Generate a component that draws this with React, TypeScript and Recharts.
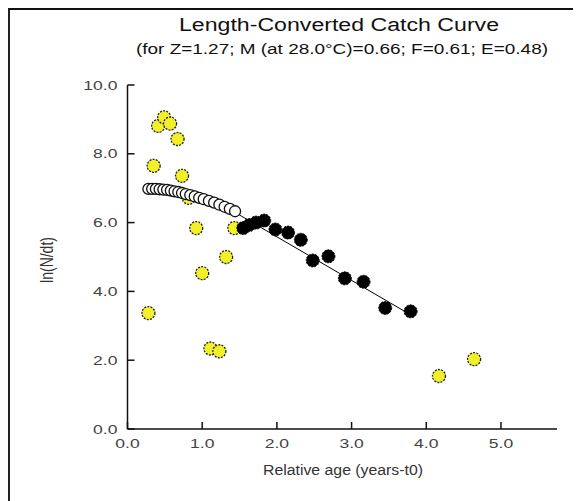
import React from 'react';
import { ScatterChart, Scatter, XAxis, YAxis } from 'recharts';

// Yellow points (not used in regression)
const yellowX = [0.28, 0.35, 0.41, 0.49, 0.57, 0.67, 0.73, 0.82, 0.92, 1.0, 1.11, 1.23, 1.32, 1.43, 4.17, 4.64];
const yellowY = [3.37, 7.65, 8.81, 9.06, 8.88, 8.43, 7.36, 6.72, 5.84, 4.53, 2.34, 2.26, 5.0, 5.84, 1.54, 2.03];

// Open circles (corrected values)
const openX = [0.28, 0.33, 0.38, 0.43, 0.48, 0.53, 0.58, 0.63, 0.68, 0.73, 0.78, 0.84, 0.9, 0.96, 1.02, 1.09, 1.16, 1.23, 1.3, 1.37, 1.44];
const openY = [6.98, 6.98, 6.98, 6.97, 6.96, 6.95, 6.93, 6.91, 6.89, 6.86, 6.83, 6.8, 6.76, 6.72, 6.68, 6.63, 6.58, 6.52, 6.46, 6.4, 6.33];

// Black points (used in regression)
const blackX = [1.55, 1.63, 1.72, 1.83, 1.98, 2.15, 2.32, 2.48, 2.69, 2.91, 3.16, 3.45, 3.79];
const blackY = [5.84, 5.93, 6.0, 6.06, 5.8, 5.71, 5.5, 4.9, 5.02, 4.38, 4.28, 3.52, 3.42];

// Regression line endpoints
const fitX = [1.5, 3.79];
const fitY = [6.22, 3.32];

const xTicks = [0, 1, 2, 3, 4, 5];
const yTicks = [0, 2, 4, 6, 8, 10];

const titleText = 'Length-Converted Catch Curve';
const subtitleText = '(for Z=1.27; M (at 28.0°C)=0.66; F=0.61; E=0.48)';
const xLabel = 'Relative age (years-t0)';
const yLabel = 'ln(N/dt)';

const toPts = (xs: number[], ys: number[]) => xs.map((x, i) => ({ x, y: ys[i] }));
const yellowData = toPts(yellowX, yellowY);
const openData = toPts(openX, openY);
const blackData = toPts(blackX, blackY);
const fitData = toPts(fitX, fitY);

const W = 569;
const H = 493;
const FONT = '"Liberation Sans", Arial, sans-serif';

const XTick = (props: any) => {
  const { x, y, payload } = props;
  return (
    <g>
      <line x1={x} y1={y} x2={x} y2={y - 7} stroke="#111" strokeWidth={1.5} />
      <text
        transform={`translate(${x},${y + 19}) scale(1.35,1)`}
        textAnchor="middle"
        fontSize={13}
        fontFamily={FONT}
        fill="#444"
      >
        {Number(payload.value).toFixed(1)}
      </text>
    </g>
  );
};

const YTick = (props: any) => {
  const { x, y, payload } = props;
  return (
    <g>
      <line x1={x} y1={y} x2={x + 7} y2={y} stroke="#111" strokeWidth={1.5} />
      <text
        transform={`translate(${x - 10},${y + 4.5}) scale(1.35,1)`}
        textAnchor="end"
        fontSize={13}
        fontFamily={FONT}
        fill="#444"
      >
        {Number(payload.value).toFixed(1)}
      </text>
    </g>
  );
};

const YellowDot = (p: any) => (
  <circle cx={p.cx} cy={p.cy} r={6.5} fill="#f3f02a" stroke="#222" strokeWidth={1.3} strokeDasharray="2 1.2" />
);
const OpenDot = (p: any) => (
  <circle cx={p.cx} cy={p.cy} r={5.5} fill="#fff" stroke="#111" strokeWidth={1.3} />
);
const BlackDot = (p: any) => (
  <circle cx={p.cx} cy={p.cy} r={6.5} fill="#000" stroke="#000" strokeWidth={1} strokeDasharray="2 1.2" />
);
const NoDot = () => <g />;

export default function App() {
  return (
    <div style={{ position: 'relative', width: W, height: H }}>
      <ScatterChart width={W} height={H} margin={{ top: 77, right: 20, left: 0, bottom: 0 }}>
        <XAxis
          type="number"
          dataKey="x"
          domain={[0, 5.75]}
          ticks={xTicks}
          allowDataOverflow
          height={72}
          tickSize={0}
          tickMargin={0}
          tickLine={false}
          axisLine={{ stroke: '#111', strokeWidth: 1.5 }}
          tick={<XTick />}
          interval={0}
        />
        <YAxis
          type="number"
          dataKey="y"
          domain={[0, 10]}
          ticks={yTicks}
          allowDataOverflow
          width={119.5}
          tickSize={0}
          tickMargin={0}
          tickLine={false}
          axisLine={{ stroke: '#111', strokeWidth: 1.5 }}
          tick={<YTick />}
          interval={0}
        />
        <Scatter data={yellowData} shape={YellowDot} isAnimationActive={false} />
        <Scatter data={openData} shape={OpenDot} isAnimationActive={false} />
        <Scatter data={blackData} shape={BlackDot} isAnimationActive={false} />
        <Scatter
          data={fitData}
          shape={NoDot}
          line={{ stroke: '#000', strokeWidth: 1 }}
          isAnimationActive={false}
        />
      </ScatterChart>
      <svg
        width={W}
        height={H}
        style={{ position: 'absolute', left: 0, top: 0, pointerEvents: 'none' }}
      >
        <text x={331} y={23} textAnchor="middle" fontSize={18} fontFamily={FONT} fill="#111" textLength={320} lengthAdjust="spacingAndGlyphs">
          {titleText}
        </text>
        <text x={334} y={46} textAnchor="middle" fontSize={14} fontFamily={FONT} fill="#111" textLength={412} lengthAdjust="spacingAndGlyphs">
          {subtitleText}
        </text>
        <text x={335} y={467} textAnchor="middle" fontSize={14} fontFamily={FONT} fill="#333" textLength={160} lengthAdjust="spacingAndGlyphs">
          {xLabel}
        </text>
        <text
          transform={`translate(45,252) scale(1.25,1) rotate(-90)`}
          textAnchor="middle"
          fontSize={14}
          fontFamily={FONT}
          fill="#333"
        >
          {yLabel}
        </text>
      </svg>
      <div
        style={{
          position: 'absolute',
          left: 0,
          top: 0,
          width: W,
          height: H,
          boxSizing: 'border-box',
          borderTop: '2px solid #111',
          borderLeft: '2px solid #222',
          borderRight: '1px solid #bbb',
          pointerEvents: 'none',
        }}
      />
    </div>
  );
}
